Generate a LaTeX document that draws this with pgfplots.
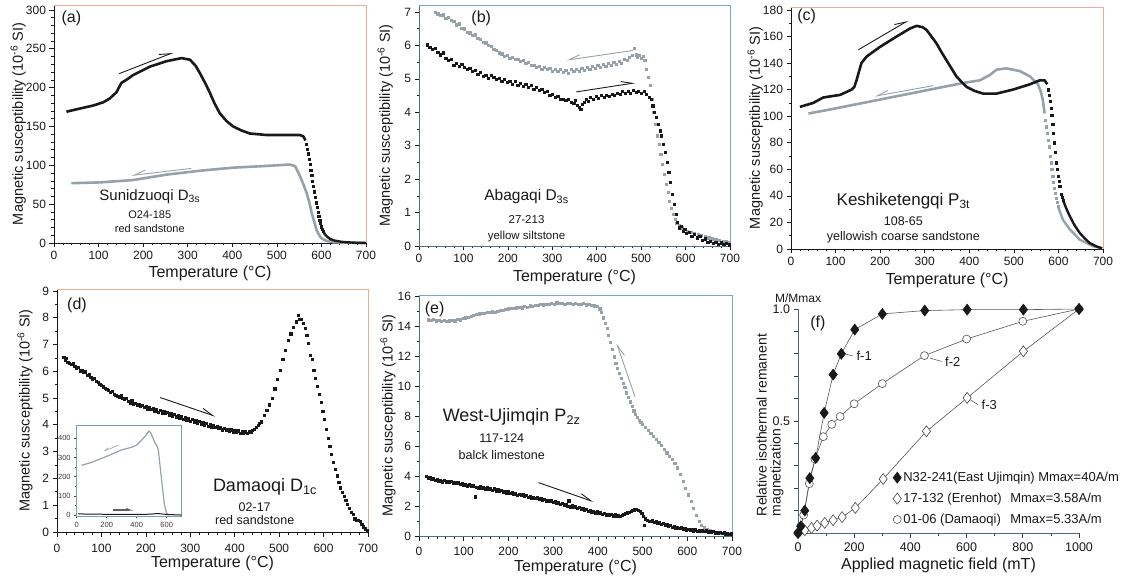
\documentclass[border=0pt]{standalone}
\usepackage{fontspec}
\setmainfont{Liberation Sans}
\usepackage{pgfplots}
\pgfplotsset{compat=1.18}
\usetikzlibrary{arrows.meta}
\definecolor{dk}{RGB}{25,25,25}
\definecolor{gr}{RGB}{150,162,168}
\definecolor{fr1}{RGB}{236,172,150}
\definecolor{fr2}{RGB}{120,172,188}
\newcommand{\fs}[1]{\fontsize{#1}{#1}\selectfont}
\tikzset{
 harB/.style={dk, line width=0.9pt, -{Straight Barb[harpoon,length=11pt,width=7pt]}},
 harG/.style={gr, line width=0.9pt, -{Straight Barb[harpoon,swap,length=11pt,width=7pt]}},
}
\pgfplotsset{
 tempax/.style={
  anchor=south west, scale only axis, clip=false,
  axis x line*=bottom, axis y line*=left,
  axis line style={dk, line width=0.9pt},
  tick align=outside, tick style={dk, line width=0.7pt},
  major tick length=4.5pt, minor tick length=2.5pt,
  xmin=0, xmax=700, xtick={0,100,...,700}, minor x tick num=4,
  tick label style={font=\fs{12}, text=dk},
  /pgf/number format/assume math mode=true,
  /pgf/number format/1000 sep={},
  xlabel={Temperature (°C)},
  ylabel={Magnetic susceptibility (10\textsuperscript{-6} SI)},
  xlabel style={font=\fs{16}, text=dk, anchor=center},
  ylabel style={font=\fs{14.5}, text=dk, anchor=center},
 },
 sq/.style={only marks, mark=square*, mark size=1.1pt, mark options={draw=#1, fill=#1}},
}
\begin{document}
\begin{tikzpicture}
\useasboundingbox (0pt,0pt) rectangle (1123pt,578pt);

% (a)
\begin{axis}[tempax, at={(54pt,335pt)}, width=312pt, height=238pt, ymin=0, ymax=306.4,
  ytick={0,50,...,300}, minor y tick num=4,
  xlabel style={at={(axis description cs:0.5,-0.126)}},
  ylabel style={at={(axis description cs:-0.115,0.5)}}]
\draw[fr1, line width=0.8pt] (rel axis cs:0,1) -- (rel axis cs:1,1) -- (rel axis cs:1,0);
\addplot[gr, line width=2.6pt, line join=round] coordinates {(39,77)(103,78)(177,81)(252,88)(327,93)(402,97)(470,99)(529,101)(541,99)(552,86)(560,75)(567,64)(573,52)(578,39)(584,27)(589,17)(595,10)(600,6)(610,3)(627,1)(650,0.3)(700,0)};
\addplot[dk, line width=2.6pt, line join=round] coordinates {(28,169)(50,172)(88,177)(110,181)(125,186)(140,194)(151,206)(165,211)(177,216)(215,227)(252,234)(286,238)(305,236)(318,228)(327,219)(340,205)(350,193)(360,180)(372,167)(387,157)(402,150)(420,145)(439,141)(477,139)(520,139)(552,139)(560,137)(564,132)};
\addplot[sq=dk] coordinates {(566,127)(568,121)(570,115)(572,108)(574,101)(576,94)(578,87)(580,80)(582,73)(584,66)(586,59)(588,52)(590,46)(592,40)(594,34)(596,29)(598,25)(600,21)(602,18)(604,15)};
\addplot[dk, line width=2.4pt, line join=round] coordinates {(604,15)(608,11)(613,8)(620,5)(630,3)(645,1.5)(660,0.8)(680,0.3)(700,0)};
\draw[harB] (axis cs:146,218) -- (axis cs:267,245);
\draw[harG] (axis cs:308,96) -- (axis cs:174,87);
\node[font=\fs{16}, text=dk] at (axis cs:39,289) {(a)};
\node[font=\fs{15}, text=dk] at (axis cs:215,60) {Sunidzuoqi D\textsubscript{3s}};
\node[font=\fs{11}, text=dk] at (axis cs:215,36) {O24-185};
\node[font=\fs{11}, text=dk] at (axis cs:215,19) {red sandstone};
\end{axis}

% (b)
\begin{axis}[tempax, at={(419pt,332pt)}, width=311pt, height=241pt, ymin=0, ymax=7.21,
  ytick={0,1,...,7}, minor y tick num=1,
  axis line style={fr2!60!dk, line width=0.9pt},
  xlabel style={at={(axis description cs:0.5,-0.129)}},
  ylabel style={at={(axis description cs:-0.109,0.5)}}]
\draw[fr2, line width=0.8pt] (rel axis cs:0,1) -- (rel axis cs:1,1) -- (rel axis cs:1,0);
\addplot[sq=gr] coordinates {(36,7.00)(42,6.95)(48,6.90)(54,6.92)(60,6.82)(66,6.85)(72,6.75)(78,6.72)(84,6.62)(90,6.65)(96,6.52)(102,6.50)(108,6.40)(114,6.38)(120,6.30)(126,6.32)(132,6.22)(138,6.18)(144,6.10)(150,6.08)(156,6.00)(162,5.98)(168,5.88)(174,5.85)(180,5.78)(186,5.75)(192,5.68)(198,5.70)(204,5.62)(210,5.64)(216,5.58)(222,5.60)(228,5.52)(234,5.55)(240,5.46)(246,5.50)(252,5.40)(258,5.42)(264,5.35)(270,5.38)(276,5.30)(282,5.34)(288,5.28)(294,5.32)(300,5.24)(306,5.30)(312,5.22)(318,5.28)(324,5.20)(330,5.26)(336,5.18)(342,5.28)(348,5.22)(354,5.30)(360,5.24)(366,5.32)(372,5.26)(378,5.35)(384,5.30)(390,5.38)(396,5.32)(402,5.40)(408,5.36)(414,5.44)(420,5.38)(426,5.46)(432,5.42)(438,5.50)(444,5.45)(450,5.52)(456,5.48)(462,5.58)(468,5.55)(474,5.65)(480,5.70)(484,5.92)(488,5.72)(492,5.66)(496,5.70)(500,5.62)(504,5.68)(508,5.55)(512,5.30)(516,5.05)(520,4.80)(524,4.40)(528,4.00)(532,3.65)(536,3.30)(540,3.05)(544,2.75)(548,2.45)(552,2.15)(556,1.85)(560,1.60)(564,1.35)(568,1.12)(572,0.95)(576,0.80)(580,0.68)(586,0.62)(592,0.55)(598,0.50)(604,0.45)(612,0.42)(620,0.38)(628,0.35)(636,0.32)(644,0.28)(652,0.25)(660,0.22)(668,0.20)(676,0.18)(684,0.15)(692,0.14)(698,0.12)};
\addplot[sq=dk] coordinates {(18,6.02)(24,5.95)(30,5.88)(36,5.92)(42,5.80)(48,5.72)(54,5.78)(60,5.62)(66,5.55)(72,5.60)(78,5.42)(84,5.48)(90,5.38)(96,5.45)(102,5.35)(108,5.28)(114,5.32)(120,5.22)(126,5.25)(132,5.15)(138,5.20)(144,5.08)(150,5.12)(156,5.02)(162,5.10)(168,5.05)(174,4.98)(180,5.02)(186,4.92)(192,4.98)(198,4.90)(204,4.94)(210,4.85)(216,4.92)(222,4.82)(228,4.88)(234,4.78)(240,4.84)(246,4.74)(252,4.80)(258,4.70)(264,4.74)(270,4.65)(276,4.70)(282,4.60)(288,4.62)(294,4.52)(300,4.55)(306,4.45)(312,4.48)(318,4.40)(324,4.38)(330,4.35)(336,4.40)(342,4.30)(348,4.28)(352,4.36)(356,4.22)(360,4.15)(364,4.10)(368,4.25)(372,4.30)(376,4.38)(380,4.32)(386,4.45)(392,4.40)(398,4.48)(404,4.42)(410,4.50)(416,4.46)(422,4.52)(428,4.48)(434,4.55)(440,4.50)(446,4.58)(452,4.55)(458,4.62)(464,4.56)(470,4.64)(476,4.58)(482,4.66)(488,4.60)(494,4.64)(500,4.56)(506,4.62)(512,4.55)(518,4.45)(522,4.38)(526,4.20)(530,4.00)(534,3.85)(538,3.65)(542,3.45)(546,3.30)(550,3.05)(554,2.80)(558,2.50)(562,2.20)(566,1.90)(570,1.55)(574,1.25)(578,0.95)(582,0.70)(586,0.55)(590,0.60)(594,0.45)(598,0.50)(602,0.38)(608,0.42)(614,0.30)(620,0.35)(626,0.25)(632,0.30)(638,0.18)(644,0.22)(650,0.12)(656,0.15)(662,0.08)(668,0.12)(674,0.06)(680,0.10)(686,0.05)(692,0.08)(698,0.04)};
\draw[harB] (axis cs:354,4.61) -- (axis cs:486,4.88);
\draw[harG] (axis cs:482,5.85) -- (axis cs:332,5.56);
\node[font=\fs{16}, text=dk] at (axis cs:140,6.8) {(b)};
\node[font=\fs{15.5}, text=dk] at (axis cs:242,1.47) {Abagaqi D\textsubscript{3s}};
\node[font=\fs{11.5}, text=dk] at (axis cs:242,0.78) {27-213};
\node[font=\fs{11.5}, text=dk] at (axis cs:242,0.28) {yellow siltstone};
\end{axis}

% (c)
\begin{axis}[tempax, at={(791pt,329pt)}, width=312pt, height=242pt, ymin=0, ymax=182.2,
  ytick={0,20,...,180}, minor y tick num=1,
  xlabel style={at={(axis description cs:0.5,-0.128)}},
  ylabel style={at={(axis description cs:-0.115,0.5)}}]
\draw[fr1, line width=0.8pt] (rel axis cs:0,1) -- (rel axis cs:1,1) -- (rel axis cs:1,0);
\addplot[gr, line width=2.6pt, line join=round] coordinates {(39,102)(87,105)(162,110)(237,115)(312,120)(386,125)(424,127)(446,131)(461,135)(483,136)(513,134)(536,130)(554,124)(560,119)(565,112)(569,102)};
\addplot[sq=gr] coordinates {(571,97)(573,92)(575,87)(577,82)(579,77)(581,70)(583,65)(585,60)(587,55)(589,50)(591,46)(593,42)(595,38)(597,35)(599,32)};
\addplot[gr, line width=2.4pt, line join=round] coordinates {(599,32)(610,22)(625,15)(648,7)(678,2)(698,0.5)};
\addplot[dk, line width=2.6pt, line join=round] coordinates {(20,107)(50,110)(72,114)(90,115)(110,116)(136,120)(142,122)(147,127)(152,133)(158,140)(170,145)(199,152)(237,160)(267,166)(282,168)(295,167)(304,165)(315,160)(326,155)(338,148)(349,142)(360,136)(371,130)(382,126)(394,122)(412,119)(431,117)(461,117)(498,120)(536,124)(558,127)(569,127)(575,124)};
\addplot[sq=dk] coordinates {(577,120)(579,116)(581,111)(583,106)(585,101)(587,94)(589,87)(591,80)(593,73)(595,65)(597,60)(599,55)(601,51)(603,47)(606,41)(608,39)(610,37)};
\addplot[dk, line width=2.4pt, line join=round] coordinates {(610,37)(617,31)(625,25)(636,18)(648,12)(659,8)(670,4.5)(685,2)(698,0.5)};
\draw[harB] (axis cs:151,150) -- (axis cs:263,172);
\draw[harG] (axis cs:319,123) -- (axis cs:188,115);
\node[font=\fs{16}, text=dk] at (axis cs:35,175) {(c)};
\node[font=\fs{17}, text=dk] at (axis cs:252,36) {Keshiketengqi P\textsubscript{3t}};
\node[font=\fs{12.5}, text=dk] at (axis cs:252,21) {108-65};
\node[font=\fs{12.5}, text=dk] at (axis cs:252,9) {yellowish coarse sandstone};
\end{axis}

% (d)
\begin{axis}[tempax, at={(57pt,46pt)}, width=311pt, height=243pt, ymin=0, ymax=9.07,
  ytick={0,1,...,9}, minor y tick num=1,
  xticklabel style={yshift=-4pt},
  xlabel style={at={(axis description cs:0.5,-0.128)}},
  ylabel style={at={(axis description cs:-0.103,0.5)}}]
\draw[fr1, line width=0.8pt] (rel axis cs:0,1) -- (rel axis cs:1,1) -- (rel axis cs:1,0);
\addplot[sq=dk] coordinates {(15,6.52)(18,6.40)(21,6.48)(24,6.35)(28,6.30)(32,6.25)(36,6.28)(40,6.18)(44,6.12)(48,6.15)(52,6.02)(56,6.05)(60,5.95)(64,5.98)(68,5.85)(72,5.88)(76,5.78)(80,5.72)(84,5.75)(88,5.62)(92,5.58)(96,5.52)(100,5.48)(104,5.42)(108,5.38)(112,5.32)(116,5.30)(120,5.22)(124,5.25)(128,5.15)(132,5.12)(136,5.08)(140,5.05)(144,5.10)(148,4.98)(152,4.95)(156,5.00)(160,4.88)(164,4.82)(168,4.90)(172,4.78)(176,4.82)(180,4.72)(184,4.78)(188,4.70)(192,4.74)(196,4.65)(200,4.70)(204,4.60)(208,4.66)(212,4.58)(216,4.62)(220,4.52)(224,4.58)(228,4.48)(232,4.55)(236,4.45)(240,4.50)(244,4.42)(248,4.46)(252,4.38)(256,4.44)(260,4.32)(264,4.40)(268,4.30)(272,4.35)(276,4.25)(280,4.30)(284,4.22)(288,4.28)(292,4.18)(296,4.24)(300,4.15)(304,4.20)(308,4.10)(312,4.18)(316,4.08)(320,4.14)(324,4.04)(328,4.10)(332,4.00)(336,4.06)(340,3.96)(344,4.02)(348,3.92)(352,3.98)(356,3.90)(360,3.94)(364,3.86)(368,3.90)(372,3.82)(376,3.88)(380,3.80)(384,3.85)(388,3.76)(392,3.82)(396,3.74)(400,3.80)(404,3.72)(408,3.78)(412,3.70)(416,3.76)(420,3.68)(424,3.74)(428,3.70)(432,3.76)(436,3.72)(440,3.80)(444,3.85)(448,3.92)(452,3.98)(456,4.05)(460,4.12)(466,4.35)(472,4.55)(478,4.75)(484,5.00)(490,5.35)(496,5.70)(502,6.05)(508,6.45)(514,6.80)(520,7.15)(526,7.40)(532,7.65)(538,7.85)(542,8.10)(546,7.95)(550,7.95)(554,7.80)(558,7.60)(562,7.35)(566,7.05)(570,6.60)(574,6.45)(578,6.05)(582,5.75)(586,5.45)(590,5.15)(594,4.85)(598,4.50)(602,4.20)(606,3.85)(610,3.50)(614,3.20)(618,2.90)(622,2.60)(626,2.35)(630,2.10)(634,1.85)(638,1.65)(642,1.50)(646,1.35)(650,1.20)(654,1.05)(658,0.90)(662,0.75)(666,0.65)(670,0.50)(674,0.45)(678,0.45)(682,0.40)(686,0.30)(690,0.20)(694,0.12)(698,0.05)};
\draw[harB] (axis cs:232,5.02) -- (axis cs:356,4.32);
\node[font=\fs{16}, text=dk] at (axis cs:45,8.46) {(d)};
\node[font=\fs{18}, text=dk] at (axis cs:468,1.68) {Damaoqi D\textsubscript{1c}};
\node[font=\fs{12.5}, text=dk] at (axis cs:445,0.93) {02-17};
\node[font=\fs{12.5}, text=dk] at (axis cs:445,0.46) {red sandstone};
\end{axis}

% (d) inset
\begin{axis}[anchor=south west, scale only axis, clip=false, at={(76.7pt,62pt)}, width=105pt, height=91pt,
  xmin=0, xmax=700, ymin=-5, ymax=470,
  axis background/.style={fill=white},
  axis line style={fr2!70!gray, line width=0.7pt},
  xtick={0,200,400,600}, ytick={0,100,...,400}, minor x tick num=1, minor y tick num=1,
  xtick pos=left, ytick pos=left, tick align=outside,
  tick style={dk!80, line width=0.5pt}, major tick length=2.5pt, minor tick length=1.5pt,
  tick label style={font=\fs{7.5}, text=dk!85},
  /pgf/number format/assume math mode=true]
\addplot[gr, line width=1.2pt, line join=round] coordinates {(33,260)(100,275)(180,300)(256,325)(300,340)(367,354)(400,365)(433,391)(460,415)(482,439)(493,430)(510,400)(522,377)(535,360)(544,342)(550,300)(556,254)(564,200)(571,149)(578,100)(584,61)(592,30)(600,9)(611,0)};
\addplot[dk, line width=1pt] coordinates {(10,6)(100,4.5)(200,4)(300,3.5)(400,3.3)(450,3.5)(500,5)(540,8)(600,3)(700,0)};
\draw[gr, line width=0.6pt, -{Straight Barb[harpoon,swap,length=4pt,width=3pt]}] (axis cs:282,365) -- (axis cs:178,333);
\draw[dk!70, line width=1.2pt, -{Straight Barb[harpoon,length=4pt,width=3pt]}] (axis cs:244,26) -- (axis cs:378,26);
\end{axis}

% (e)
\begin{axis}[tempax, at={(419pt,42pt)}, width=313pt, height=241pt, ymin=0, ymax=16.07,
  ytick={0,2,...,16}, minor y tick num=1,
  axis line style={fr2!60!dk, line width=0.9pt},
  xticklabel style={yshift=-3pt},
  xlabel style={at={(axis description cs:0.5,-0.129)}},
  ylabel style={at={(axis description cs:-0.099,0.5)}}]
\draw[fr2, line width=0.8pt] (rel axis cs:0,1) -- (rel axis cs:1,1) -- (rel axis cs:1,0);
\addplot[sq=gr] coordinates {(20,14.42)(26,14.38)(32,14.45)(38,14.35)(44,14.40)(50,14.32)(56,14.38)(62,14.30)(68,14.36)(74,14.40)(80,14.35)(86,14.45)(92,14.42)(98,14.50)(104,14.55)(110,14.60)(116,14.68)(122,14.72)(128,14.78)(134,14.82)(140,14.86)(146,14.88)(152,14.92)(158,14.90)(164,14.95)(170,14.92)(176,15.00)(182,15.05)(188,15.08)(194,15.12)(200,15.15)(206,15.18)(212,15.20)(218,15.22)(224,15.25)(230,15.22)(236,15.30)(242,15.28)(248,15.35)(254,15.32)(260,15.40)(266,15.38)(272,15.45)(278,15.42)(284,15.48)(290,15.45)(296,15.52)(302,15.48)(308,15.55)(314,15.50)(320,15.52)(326,15.48)(332,15.54)(338,15.50)(344,15.46)(350,15.52)(356,15.48)(362,15.45)(368,15.50)(374,15.42)(380,15.46)(386,15.38)(392,15.35)(398,15.30)(404,15.15)(408,14.90)(412,14.55)(416,14.20)(420,13.85)(424,13.40)(428,12.90)(432,12.45)(436,11.95)(440,11.50)(444,11.20)(448,10.85)(452,10.50)(456,10.20)(460,9.90)(464,9.55)(468,9.25)(472,8.95)(476,8.65)(480,8.35)(484,8.10)(488,7.90)(492,7.72)(496,7.58)(500,7.45)(506,7.25)(512,7.05)(518,6.85)(524,6.65)(530,6.45)(536,6.25)(542,6.05)(548,5.80)(554,5.55)(560,5.30)(566,5.10)(572,4.85)(578,4.55)(584,4.10)(590,3.65)(596,3.20)(602,2.75)(608,2.30)(614,1.85)(620,1.40)(626,1.00)(632,0.72)(638,0.55)(644,0.42)(650,0.35)(656,0.30)(662,0.26)(668,0.24)(674,0.22)(680,0.20)(686,0.19)(692,0.18)(698,0.17)};
\addplot[sq=dk] coordinates {(16,3.98)(20,3.85)(24,3.90)(28,3.78)(32,3.82)(36,3.72)(40,3.76)(44,3.68)(48,3.74)(52,3.62)(56,3.70)(60,3.60)(64,3.66)(68,3.58)(72,3.64)(76,3.55)(80,3.60)(84,3.50)(88,3.56)(92,3.46)(96,3.52)(100,3.40)(104,3.46)(108,3.35)(112,3.42)(116,3.30)(120,3.36)(125,2.62)(128,3.28)(132,3.22)(136,3.30)(140,3.18)(144,3.25)(148,3.15)(152,3.22)(156,3.12)(160,3.18)(164,3.08)(168,3.15)(172,3.02)(176,3.10)(180,2.98)(184,3.05)(188,2.95)(192,3.00)(196,2.88)(200,2.95)(204,2.84)(208,2.90)(212,2.80)(216,2.86)(220,2.74)(224,2.80)(228,2.70)(232,2.76)(236,2.64)(240,2.70)(244,2.60)(248,2.66)(252,2.55)(256,2.60)(260,2.50)(264,2.56)(268,2.45)(272,2.50)(276,2.40)(280,2.46)(284,2.35)(288,2.40)(292,2.30)(296,2.36)(300,2.25)(304,2.30)(308,2.18)(312,2.24)(316,2.12)(320,2.18)(324,2.05)(328,2.12)(332,2.00)(335,2.35)(338,1.95)(342,2.02)(346,1.90)(350,1.96)(354,1.85)(358,1.90)(362,1.78)(366,1.85)(370,1.72)(374,1.78)(378,1.65)(382,1.72)(386,1.60)(390,1.66)(394,1.55)(398,1.62)(402,1.50)(406,1.56)(410,1.45)(414,1.52)(418,1.42)(422,1.48)(426,1.38)(430,1.44)(434,1.36)(438,1.42)(442,1.34)(446,1.40)(450,1.32)(454,1.40)(458,1.45)(462,1.50)(466,1.55)(470,1.60)(474,1.68)(478,1.72)(482,1.75)(486,1.78)(490,1.72)(494,1.65)(498,1.50)(502,1.30)(504,0.70)(506,1.15)(510,1.05)(514,1.00)(518,0.98)(522,1.02)(526,0.92)(530,0.95)(534,0.85)(538,0.90)(542,0.80)(546,0.84)(550,0.75)(554,0.80)(558,0.68)(562,0.72)(566,0.60)(570,0.66)(574,0.55)(578,0.60)(582,0.50)(586,0.55)(590,0.46)(594,0.52)(598,0.42)(602,0.48)(606,0.40)(610,0.45)(614,0.36)(618,0.42)(622,0.34)(626,0.40)(630,0.32)(634,0.38)(638,0.30)(642,0.35)(646,0.28)(650,0.32)(654,0.25)(658,0.30)(662,0.22)(666,0.28)(670,0.20)(674,0.25)(678,0.18)(682,0.22)(686,0.15)(690,0.20)(694,0.12)(698,0.16)};
\draw[harB] (axis cs:267,3.56) -- (axis cs:390,2.29);
\draw[harG] (axis cs:483,9.29) -- (axis cs:442,12.84);
\node[font=\fs{16}, text=dk] at (axis cs:35,15.1) {(e)};
\node[font=\fs{18}, text=dk] at (axis cs:207,7.96) {West-Ujimqin P\textsubscript{2z}};
\node[font=\fs{12.5}, text=dk] at (axis cs:185,6.5) {117-124};
\node[font=\fs{12.5}, text=dk] at (axis cs:185,5.4) {balck limestone};
\end{axis}

% (f)
\begin{axis}[anchor=south west, scale only axis, clip=false, at={(798pt,45pt)}, width=281pt, height=224pt,
  xmin=0, xmax=1000, ymin=0, ymax=1,
  axis x line*=bottom, axis y line*=left,
  axis line style={fr2!55!dk, line width=0.8pt},
  tick align=outside, tick style={dk!85, line width=0.7pt},
  major tick length=4.5pt, minor tick length=2.5pt,
  xtick={0,200,...,1000}, minor x tick num=1,
  ytick={0,0.1,0.2,0.3,0.4,0.5,0.6,0.7,0.8,0.9,1},
  yticklabels={,,,,,0.5,,,,,1.0},
  tick label style={font=\fs{12.5}, text=dk},
  xticklabel style={yshift=-2pt},
  /pgf/number format/assume math mode=true,
  /pgf/number format/1000 sep={},
  xlabel={Applied magnetic field (mT)},
  ylabel={Relative isothermal remanent\\magnetization},
  xlabel style={font=\fs{16}, text=dk, anchor=center, at={(axis description cs:0.5,-0.143)}},
  ylabel style={font=\fs{14}, text=dk, anchor=west, align=left, at={(axis description cs:-0.1,0.06)}},
  reverse legend,
  legend image code/.code={\draw[#1] plot coordinates {(0.2cm,0cm)};},
  legend style={at={(0.327,0.29)}, anchor=north west, draw=none, fill=none,
    font=\fs{13}, text=dk, row sep=6pt, cells={anchor=west}}]
\addplot[gray!60!dk, line width=0.6pt, mark=*, mark size=4pt, mark options={fill=white, draw=dk!75, line width=0.6pt}]
 coordinates {(0,0)(10,0.03)(20,0.08)(40,0.22)(60,0.33)(90,0.43)(120,0.485)(150,0.52)(200,0.577)(300,0.667)(450,0.792)(600,0.866)(800,0.945)(1000,1)};
\addlegendentry{\makebox[107pt][l]{01-06 (Damaoqi)}Mmax=5.33A/m}
\addplot[gray!60!dk, line width=0.6pt, mark=diamond*, mark size=5.5pt, mark options={fill=white, draw=dk!80, line width=0.6pt}]
 coordinates {(0,0)(24,0.012)(48,0.022)(68,0.033)(95,0.045)(125,0.057)(157,0.071)(204,0.112)(303,0.241)(457,0.454)(602,0.603)(802,0.811)(1000,1)};
\addlegendentry{\makebox[107pt][l]{17-132 (Erenhot)}Mmax=3.58A/m}
\addplot[gray!60!dk, line width=0.6pt, mark=diamond*, mark size=5.5pt, mark options={fill=dk, draw=dk, line width=0.6pt}]
 coordinates {(0,0)(10,0.03)(24,0.10)(42,0.245)(63,0.335)(93,0.536)(125,0.707)(154,0.80)(202,0.908)(300,0.978)(451,0.993)(602,0.997)(802,0.997)(1000,1.0)};
\addlegendentry{\makebox[135pt][l]{N32-241(East Ujimqin)}Mmax=40A/m}
\draw[dk!70, line width=0.6pt] (axis cs:166,0.80) -- (axis cs:196,0.79);
\node[font=\fs{13}, text=dk, anchor=west] at (axis cs:196,0.789) {f-1};
\draw[dk!70, line width=0.6pt] (axis cs:469,0.781) -- (axis cs:511,0.766);
\node[font=\fs{13}, text=dk, anchor=west] at (axis cs:511,0.766) {f-2};
\draw[dk!70, line width=0.6pt] (axis cs:612,0.595) -- (axis cs:641,0.573);
\node[font=\fs{13}, text=dk, anchor=west] at (axis cs:641,0.573) {f-3};
\node[font=\fs{16}, text=dk] at (axis cs:71,0.9375) {(f)};
\node[font=\fs{12}, text=dk] at (rel axis cs:0,1.05) {M/Mmax};
\end{axis}
\end{tikzpicture}
\end{document}
